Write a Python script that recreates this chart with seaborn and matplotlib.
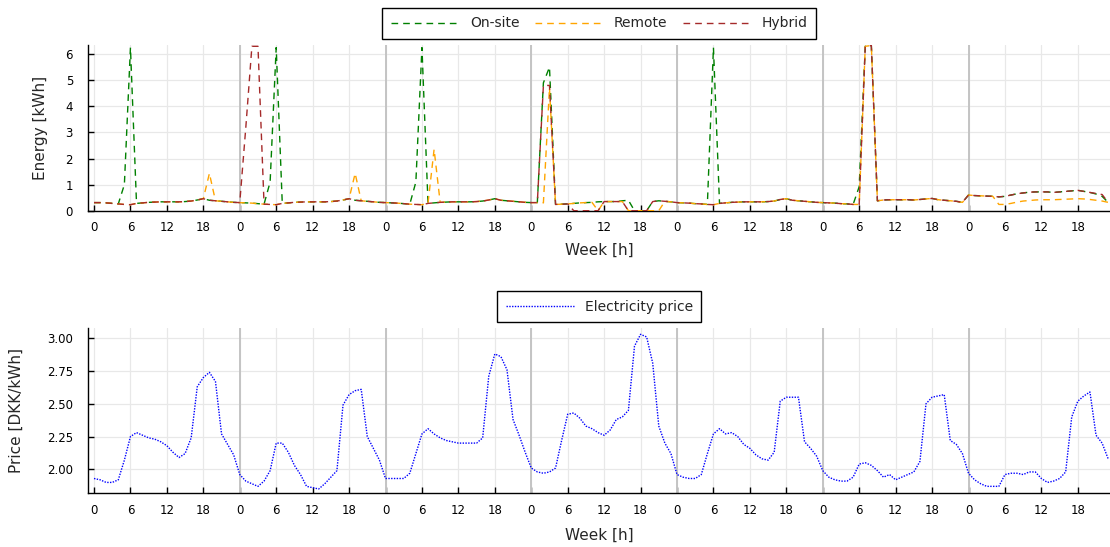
import matplotlib
matplotlib.use("Agg")
import matplotlib.pyplot as plt
import seaborn as sns
import pandas as pd

# Hour index over one week (7 days x 24 h)
hours = list(range(168))
tick_positions = list(range(0, 168, 6))
tick_labels = [str(h % 24) for h in tick_positions]
day_starts = [24, 48, 72, 96, 120, 144]

# Energy use per hour [kWh]
on_site = [
    0.31, 0.31, 0.30, 0.28, 0.26, 1.00, 6.25, 0.28, 0.30, 0.32, 0.33, 0.34, 0.34, 0.34, 0.34, 0.35, 0.37, 0.41, 0.46, 0.40, 0.38, 0.36, 0.34, 0.32,
    0.31, 0.30, 0.29, 0.27, 0.25, 1.10, 6.25, 0.28, 0.30, 0.32, 0.33, 0.34, 0.34, 0.34, 0.34, 0.35, 0.37, 0.41, 0.46, 0.40, 0.38, 0.36, 0.34, 0.32,
    0.31, 0.30, 0.29, 0.27, 0.25, 1.10, 6.25, 0.28, 0.30, 0.32, 0.33, 0.34, 0.34, 0.34, 0.34, 0.35, 0.37, 0.41, 0.46, 0.40, 0.38, 0.36, 0.34, 0.32,
    0.31, 0.31, 4.90, 5.50, 0.24, 0.25, 0.26, 0.28, 0.30, 0.31, 0.32, 0.34, 0.35, 0.35, 0.35, 0.38, 0.40, 0.00, 0.00, 0.00, 0.35, 0.38, 0.36, 0.34,
    0.31, 0.30, 0.29, 0.27, 0.26, 0.24, 6.25, 0.28, 0.30, 0.32, 0.33, 0.34, 0.34, 0.34, 0.34, 0.35, 0.37, 0.43, 0.46, 0.40, 0.38, 0.36, 0.34, 0.32,
    0.31, 0.30, 0.29, 0.27, 0.26, 0.24, 0.92, 6.30, 6.33, 0.38, 0.41, 0.42, 0.42, 0.42, 0.42, 0.41, 0.43, 0.45, 0.47, 0.42, 0.40, 0.38, 0.36, 0.32,
    0.60, 0.58, 0.57, 0.56, 0.55, 0.53, 0.55, 0.60, 0.65, 0.68, 0.71, 0.72, 0.72, 0.72, 0.70, 0.72, 0.74, 0.76, 0.78, 0.74, 0.70, 0.64, 0.55, 0.32,
]
remote = [
    0.31, 0.31, 0.30, 0.28, 0.26, 0.24, 0.23, 0.28, 0.30, 0.32, 0.33, 0.34, 0.34, 0.34, 0.34, 0.35, 0.37, 0.41, 0.46, 1.43, 0.38, 0.36, 0.34, 0.32,
    0.31, 0.30, 0.29, 0.27, 0.25, 0.24, 0.23, 0.28, 0.30, 0.32, 0.33, 0.34, 0.34, 0.34, 0.34, 0.35, 0.37, 0.41, 0.46, 1.43, 0.38, 0.36, 0.34, 0.32,
    0.31, 0.30, 0.29, 0.27, 0.25, 0.24, 0.23, 0.28, 2.35, 0.32, 0.33, 0.34, 0.34, 0.34, 0.34, 0.35, 0.37, 0.41, 0.46, 0.40, 0.38, 0.36, 0.34, 0.32,
    0.31, 0.31, 0.30, 4.70, 0.24, 0.25, 0.26, 0.28, 0.30, 0.31, 0.32, 0.00, 0.35, 0.35, 0.35, 0.35, 0.00, 0.00, 0.00, 0.00, 0.00, 0.00, 0.36, 0.34,
    0.31, 0.30, 0.29, 0.27, 0.26, 0.24, 0.23, 0.28, 0.30, 0.32, 0.33, 0.34, 0.34, 0.34, 0.34, 0.35, 0.37, 0.43, 0.46, 0.40, 0.38, 0.36, 0.34, 0.32,
    0.31, 0.30, 0.29, 0.27, 0.26, 0.24, 0.24, 6.30, 6.33, 0.38, 0.41, 0.42, 0.42, 0.42, 0.42, 0.41, 0.43, 0.45, 0.47, 0.42, 0.40, 0.38, 0.36, 0.32,
    0.60, 0.58, 0.57, 0.56, 0.55, 0.24, 0.24, 0.28, 0.33, 0.37, 0.39, 0.41, 0.42, 0.42, 0.42, 0.43, 0.44, 0.45, 0.46, 0.45, 0.43, 0.40, 0.37, 0.32,
]
hybrid = [
    0.31, 0.31, 0.30, 0.28, 0.26, 0.24, 0.23, 0.28, 0.30, 0.32, 0.33, 0.34, 0.34, 0.34, 0.34, 0.35, 0.37, 0.41, 0.46, 0.40, 0.38, 0.36, 0.34, 0.32,
    0.31, 3.20, 6.30, 6.30, 0.25, 0.24, 0.23, 0.28, 0.30, 0.32, 0.33, 0.34, 0.34, 0.34, 0.34, 0.35, 0.37, 0.41, 0.46, 0.40, 0.38, 0.36, 0.34, 0.32,
    0.31, 0.30, 0.29, 0.27, 0.25, 0.24, 0.23, 0.28, 0.30, 0.32, 0.33, 0.34, 0.34, 0.34, 0.34, 0.35, 0.37, 0.41, 0.46, 0.40, 0.38, 0.36, 0.34, 0.32,
    0.31, 0.31, 4.80, 4.80, 0.24, 0.25, 0.26, 0.00, 0.00, 0.00, 0.00, 0.00, 0.35, 0.35, 0.35, 0.35, 0.00, 0.00, 0.00, 0.00, 0.35, 0.38, 0.36, 0.34,
    0.31, 0.30, 0.29, 0.27, 0.26, 0.24, 0.23, 0.28, 0.30, 0.32, 0.33, 0.34, 0.34, 0.34, 0.34, 0.35, 0.37, 0.43, 0.46, 0.40, 0.38, 0.36, 0.34, 0.32,
    0.31, 0.30, 0.29, 0.27, 0.26, 0.24, 0.24, 6.30, 6.33, 0.38, 0.41, 0.42, 0.42, 0.42, 0.42, 0.41, 0.43, 0.45, 0.47, 0.42, 0.40, 0.38, 0.36, 0.32,
    0.60, 0.58, 0.57, 0.56, 0.55, 0.53, 0.55, 0.60, 0.65, 0.68, 0.71, 0.72, 0.72, 0.72, 0.70, 0.72, 0.74, 0.76, 0.78, 0.74, 0.70, 0.66, 0.62, 0.32,
]

# Electricity price per hour [DKK/kWh]
price = [
    1.93, 1.92, 1.90, 1.90, 1.92, 2.07, 2.25, 2.28, 2.26, 2.24, 2.23, 2.21, 2.18, 2.13, 2.09, 2.12, 2.24, 2.63, 2.70, 2.74, 2.67, 2.27, 2.19, 2.11,
    1.96, 1.91, 1.89, 1.87, 1.91, 1.99, 2.20, 2.20, 2.13, 2.03, 1.96, 1.87, 1.86, 1.85, 1.89, 1.94, 1.99, 2.49, 2.57, 2.60, 2.61, 2.25, 2.16, 2.07,
    1.93, 1.93, 1.93, 1.93, 1.97, 2.12, 2.27, 2.31, 2.27, 2.24, 2.22, 2.21, 2.20, 2.20, 2.20, 2.20, 2.24, 2.71, 2.88, 2.86, 2.76, 2.38, 2.26, 2.13,
    2.01, 1.98, 1.97, 1.98, 2.01, 2.22, 2.42, 2.43, 2.39, 2.33, 2.31, 2.28, 2.26, 2.30, 2.38, 2.40, 2.45, 2.94, 3.03, 3.01, 2.81, 2.33, 2.20, 2.12,
    1.96, 1.94, 1.93, 1.93, 1.96, 2.12, 2.27, 2.31, 2.27, 2.28, 2.25, 2.19, 2.16, 2.11, 2.08, 2.07, 2.13, 2.52, 2.55, 2.55, 2.55, 2.21, 2.16, 2.10,
    1.99, 1.94, 1.92, 1.91, 1.91, 1.94, 2.04, 2.05, 2.03, 1.99, 1.94, 1.96, 1.92, 1.94, 1.96, 1.98, 2.06, 2.50, 2.55, 2.56, 2.57, 2.22, 2.19, 2.12,
    1.97, 1.92, 1.89, 1.87, 1.87, 1.87, 1.96, 1.97, 1.97, 1.96, 1.98, 1.98, 1.93, 1.90, 1.91, 1.93, 1.98, 2.40, 2.52, 2.56, 2.59, 2.26, 2.20, 2.08,
]

energy = pd.DataFrame({"hour": hours, "On-site": on_site, "Remote": remote, "Hybrid": hybrid})
prices = pd.DataFrame({"hour": hours, "Electricity price": price})

sns.set_theme(style="white")
plt.rcParams["font.family"] = ["DejaVu Sans"]

W, H = 1110, 547
fig = plt.figure(figsize=(W / 100, H / 100), dpi=100)
left_px, right_px = 88.3, 1110
ax1 = fig.add_axes([left_px / W, 1 - 210.7 / H, (right_px - left_px) / W, (210.7 - 45) / H])
ax2 = fig.add_axes([left_px / W, 1 - 493.3 / H, (right_px - left_px) / W, (493.3 - 328.3) / H])

dash = (0, (4.8, 3.6))
series_style = [("On-site", "#008000"), ("Remote", "#FFA500"), ("Hybrid", "#A52A2A")]


def style_axis(ax):
    ax.set_facecolor("white")
    ax.grid(True, color="#e8e8e8", lw=0.9, zorder=0)
    for d in day_starts:
        ax.axvline(d, color="#c4c4c4", lw=1.4, zorder=1)
    for s in ["top", "right"]:
        ax.spines[s].set_visible(False)
    for s in ["left", "bottom"]:
        ax.spines[s].set_color("black")
        ax.spines[s].set_linewidth(1.0)
    ax.set_xlim(-0.94, 167.3)
    ax.set_xticks(tick_positions)
    ax.set_xticklabels(tick_labels)
    ax.tick_params(axis="both", which="major", direction="in", length=4, width=1,
                   color="black", labelsize=8.5, labelcolor="black", bottom=True, left=True)
    ax.tick_params(axis="x", pad=7.5)
    ax.tick_params(axis="y", pad=11)


for name, color in series_style:
    sns.lineplot(data=energy, x="hour", y=name, ax=ax1, color=color, lw=1.0,
                 linestyle=dash, label=name, zorder=3)
style_axis(ax1)
ax1.set_ylim(0, 6.35)
ax1.set_yticks([0, 1, 2, 3, 4, 5, 6])
ax1.set_xlabel("Week [h]", fontsize=11)
ax1.set_ylabel("Energy [kWh]", fontsize=11)
ax1.xaxis.set_label_coords(0.5, (210.7 - 250) / 165.7)
ax1.xaxis.label.set_va("center")
ax1.yaxis.set_label_coords((40 - left_px) / (right_px - left_px), 0.5)
ax1.yaxis.label.set_va("center")
leg1 = ax1.legend(loc="lower center", bbox_to_anchor=(0.5, 1 + 6 / 165.7), ncol=3, frameon=True,
                  fancybox=False, edgecolor="black", framealpha=1, fontsize=10,
                  handlelength=4.9, handletextpad=0.8, columnspacing=1.1, borderpad=0.62,
                  borderaxespad=0)
leg1.get_frame().set_linewidth(1.0)

sns.lineplot(data=prices, x="hour", y="Electricity price", ax=ax2, color="#0000FF", lw=1.0,
             linestyle=(0, (1, 1)), label="Electricity price", zorder=3)
style_axis(ax2)
ax2.set_ylim(1.817, 3.076)
ax2.set_yticks([2.00, 2.25, 2.50, 2.75, 3.00])
ax2.set_yticklabels(["2.00", "2.25", "2.50", "2.75", "3.00"])
ax2.set_xlabel("Week [h]", fontsize=11)
ax2.set_ylabel("Price [DKK/kWh]", fontsize=11)
ax2.xaxis.set_label_coords(0.5, (493.3 - 535) / 165.0)
ax2.xaxis.label.set_va("center")
ax2.yaxis.set_label_coords((16 - left_px) / (right_px - left_px), 0.5)
ax2.yaxis.label.set_va("center")
leg2 = ax2.legend(loc="lower center", bbox_to_anchor=(0.5, 1 + 6 / 165.0), ncol=1, frameon=True,
                  fancybox=False, edgecolor="black", framealpha=1, fontsize=10,
                  handlelength=4.9, handletextpad=0.8, borderpad=0.62, borderaxespad=0)
leg2.get_frame().set_linewidth(1.0)

fig.savefig("out.png", dpi=100, facecolor="white")
